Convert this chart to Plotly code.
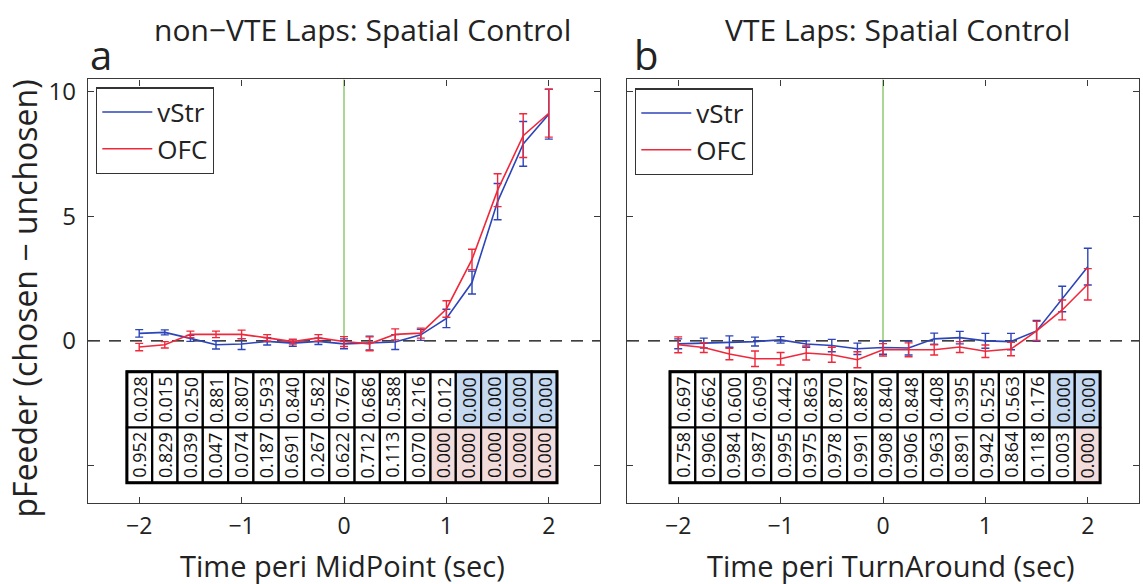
import plotly.graph_objects as go

# ---------------- data ----------------
time_s = [-2.0, -1.75, -1.5, -1.25, -1.0, -0.75, -0.5, -0.25, 0.0,
          0.25, 0.5, 0.75, 1.0, 1.25, 1.5, 1.75, 2.0]

a_vstr = [0.30, 0.34, 0.10, -0.16, -0.13, -0.02, -0.09, -0.02, -0.12,
          -0.09, -0.05, 0.24, 0.90, 2.34, 5.59, 7.91, 9.10]
a_vstr_err = [0.15, 0.10, 0.12, 0.17, 0.22, 0.15, 0.13, 0.13, 0.20,
              0.28, 0.30, 0.22, 0.37, 0.46, 0.73, 0.90, 1.00]
a_ofc = [-0.25, -0.16, 0.26, 0.26, 0.26, 0.12, -0.03, 0.12, -0.03,
         -0.12, 0.26, 0.31, 1.28, 3.27, 6.05, 8.24, 9.14]
a_ofc_err = [0.15, 0.13, 0.13, 0.13, 0.17, 0.13, 0.10, 0.13, 0.20,
             0.28, 0.22, 0.20, 0.33, 0.41, 0.66, 0.88, 0.96]

b_vstr = [-0.12, -0.09, -0.03, -0.03, 0.04, -0.13, -0.19, -0.32, -0.27,
          -0.29, 0.08, 0.13, 0.00, -0.03, 0.40, 1.68, 2.98]
b_vstr_err = [0.20, 0.20, 0.23, 0.18, 0.13, 0.13, 0.25, 0.23, 0.27,
              0.28, 0.23, 0.25, 0.30, 0.33, 0.42, 0.51, 0.74]
b_ofc = [-0.16, -0.27, -0.53, -0.72, -0.72, -0.49, -0.56, -0.76, -0.36,
         -0.36, -0.36, -0.25, -0.42, -0.33, 0.40, 1.24, 2.27]
b_ofc_err = [0.32, 0.20, 0.23, 0.31, 0.25, 0.28, 0.30, 0.32, 0.25,
             0.28, 0.21, 0.22, 0.25, 0.27, 0.38, 0.40, 0.63]

# p-values (row 1: vStr, row 2: OFC)
a_p_vstr = [0.028, 0.015, 0.250, 0.881, 0.807, 0.593, 0.840, 0.582, 0.767,
            0.686, 0.588, 0.216, 0.012, 0.000, 0.000, 0.000, 0.000]
a_p_ofc = [0.952, 0.829, 0.039, 0.047, 0.074, 0.187, 0.691, 0.267, 0.622,
           0.712, 0.113, 0.070, 0.000, 0.000, 0.000, 0.000, 0.000]
b_p_vstr = [0.697, 0.662, 0.600, 0.609, 0.442, 0.863, 0.870, 0.887, 0.840,
            0.848, 0.408, 0.395, 0.525, 0.563, 0.176, 0.000, 0.000]
b_p_ofc = [0.758, 0.906, 0.984, 0.987, 0.995, 0.975, 0.978, 0.991, 0.908,
           0.906, 0.963, 0.891, 0.942, 0.864, 0.118, 0.003, 0.000]

titles = ["non\u2212VTE Laps: Spatial Control", "VTE Laps: Spatial Control"]
xtitles = ["Time peri MidPoint (sec)", "Time peri TurnAround (sec)"]
ytitle = "pFeeder (chosen \u2212 unchosen)"
letters = ["a", "b"]
series_names = ["vStr", "OFC"]

# ---------------- style ----------------
FONT = "Open Sans"
BLUE = "#2c45b8"
RED = "#f0283a"
GREEN = "#86c866"
AXC = "#3a3a3a"
BLUE_CELL = "#c5d9f1"
PINK_CELL = "#f2dcdb"
W, H = 1143, 584

fig = go.Figure()

panels = [
    dict(vs=a_vstr, vse=a_vstr_err, of=a_ofc, ofe=a_ofc_err, pv=a_p_vstr, po=a_p_ofc,
         xa="x", ya="y", leg="legend", tbl_left=-2.12),
    dict(vs=b_vstr, vse=b_vstr_err, of=b_ofc, ofe=b_ofc_err, pv=b_p_vstr, po=b_p_ofc,
         xa="x2", ya="y2", leg="legend2", tbl_left=-2.08),
]

for p in panels:
    for name, y, e, c in [(series_names[0], p["vs"], p["vse"], BLUE),
                          (series_names[1], p["of"], p["ofe"], RED)]:
        fig.add_trace(go.Scatter(
            x=time_s, y=y, mode="lines", name=name,
            line=dict(color=c, width=1.6),
            error_y=dict(type="data", array=e, visible=True, color=c,
                         thickness=1.4, width=4),
            xaxis=p["xa"], yaxis=p["ya"], legend=p["leg"], showlegend=True))

shapes = []
annotations = []
col_w = 4.2 / 17
row_top, row_mid, row_bot = -1.24, -3.48, -5.70

for i, p in enumerate(panels):
    xr, yr = p["xa"], p["ya"]
    shapes.append(dict(type="line", xref=xr + " domain", yref=yr, x0=0, x1=1, y0=0, y1=0,
                       line=dict(color="black", width=1.4, dash="12px,9px"), layer="below"))
    shapes.append(dict(type="line", xref=xr, yref=yr, x0=0, x1=0, y0=-0.1, y1=10.5,
                       line=dict(color=GREEN, width=1.4), layer="below"))
    for j in range(len(time_s)):
        x0 = p["tbl_left"] + j * col_w
        x1 = x0 + col_w
        for (vals, y0, y1, hc) in [(p["pv"], row_mid, row_top, BLUE_CELL),
                                   (p["po"], row_bot, row_mid, PINK_CELL)]:
            v = vals[j]
            fill = hc if v < 0.0005 else "white"
            shapes.append(dict(type="rect", xref=xr, yref=yr, x0=x0, x1=x1, y0=y0, y1=y1,
                               fillcolor=fill, line=dict(color="black", width=2.2)))
            annotations.append(dict(xref=xr, yref=yr, x=(x0 + x1) / 2, y=(y0 + y1) / 2,
                                    text="%.3f" % v, textangle=-90, showarrow=False,
                                    font=dict(family=FONT, size=18, color="#111")))
    shapes.append(dict(type="rect", xref=xr, yref=yr, x0=p["tbl_left"],
                       x1=p["tbl_left"] + 17 * col_w, y0=row_bot, y1=row_top,
                       fillcolor="rgba(0,0,0,0)", line=dict(color="black", width=3)))

title_x = [362, 897]
letter_x = [101, 646]
xt_x = [342, 891]
for i in range(2):
    annotations.append(dict(xref="paper", yref="paper", x=title_x[i] / W, y=1 - 25 / H,
                            text=titles[i], showarrow=False, xanchor="center", yanchor="middle",
                            font=dict(family=FONT, size=30, color="#222")))
    annotations.append(dict(xref="paper", yref="paper", x=letter_x[i] / W, y=1 - 50 / H,
                            text=letters[i], showarrow=False, xanchor="center", yanchor="middle",
                            font=dict(family=FONT, size=40, color="#222")))
    annotations.append(dict(xref="paper", yref="paper", x=xt_x[i] / W, y=1 - 565 / H,
                            text=xtitles[i], showarrow=False, xanchor="center", yanchor="middle",
                            font=dict(family=FONT, size=29, color="#222")))
annotations.append(dict(xref="paper", yref="paper", x=24 / W, y=1 - 296 / H,
                        text=ytitle, showarrow=False, textangle=-90,
                        xanchor="center", yanchor="middle",
                        font=dict(family=FONT, size=32, color="#222")))

xdom = [[88 / W, 600 / W], [627 / W, 1139 / W]]
ydom = [1 - 502 / H, 1 - 75 / H]

def xaxis(dom, anchor):
    return dict(domain=dom, anchor=anchor, range=[-2.5, 2.5], tickvals=[-2, -1, 0, 1, 2],
                ticks="inside", ticklen=6, tickcolor=AXC, showline=True, linecolor=AXC,
                linewidth=1.3, mirror="ticks", showgrid=False, zeroline=False,
                tickfont=dict(family=FONT, size=23, color="#222"), ticklabelstandoff=3)

def yaxis(anchor, labels):
    return dict(domain=ydom, anchor=anchor, range=[-6.5, 10.5], tickvals=[-5, 0, 5, 10],
                ticktext=["", "0", "5", "10"], showticklabels=labels,
                ticks="inside", ticklen=6, tickcolor=AXC, showline=True, linecolor=AXC,
                linewidth=1.3, mirror="ticks", showgrid=False, zeroline=False,
                tickfont=dict(family=FONT, size=24, color="#222"), ticklabelstandoff=6)

legend_common = dict(xanchor="left", yanchor="top", bordercolor="#333", borderwidth=1.3,
                     bgcolor="white", font=dict(family=FONT, size=26, color="#222"),
                     itemwidth=50, tracegroupgap=0)

fig.update_layout(
    width=W, height=H, margin=dict(l=0, r=0, t=0, b=0),
    paper_bgcolor="white", plot_bgcolor="white",
    xaxis=xaxis(xdom[0], "y"), yaxis=yaxis("x", True),
    xaxis2=xaxis(xdom[1], "y2"), yaxis2=yaxis("x2", False),
    legend=dict(x=96 / W, y=1 - 83 / H, **legend_common),
    legend2=dict(x=635 / W, y=1 - 84 / H, **legend_common),
    shapes=shapes, annotations=annotations,
)

fig.write_html("out.html")
